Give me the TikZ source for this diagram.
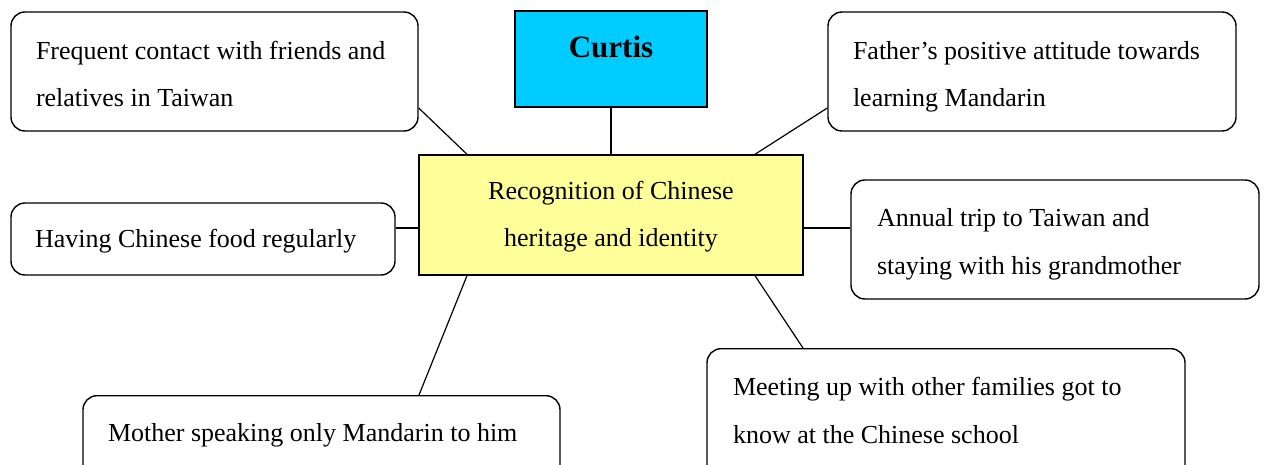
\documentclass[tikz,border=0pt]{standalone}
\usepackage{fontspec}
\setmainfont{Liberation Serif}
\usetikzlibrary{calc}
\definecolor{namecyan}{RGB}{0,204,255}
\definecolor{coreyellow}{RGB}{255,255,153}
% text block whose first baseline lies #1 above the node centre
\newcommand\boxtext[3]{\raisebox{#1}[0pt][0pt]{\parbox[t]{#2}{\raggedright\fontsize{26}{47.5}\selectfont #3}}}
\newcommand\coretext[3]{\raisebox{#1}[0pt][0pt]{\parbox[t]{#2}{\centering\fontsize{26}{47.5}\selectfont #3}}}
\begin{document}
\begin{tikzpicture}[x=1pt,y=-1pt,
  factor/.style={draw, rounded corners=14pt, line width=1.4pt, fill=white,
    inner sep=0pt},
  namebox/.style={draw, line width=1.4pt, fill=namecyan,
    font=\fontsize{31}{36}\selectfont\bfseries, inner sep=0pt},
  corebox/.style={draw, line width=1.4pt, fill=coreyellow, inner sep=0pt},
  link/.style={line width=1.2pt}]
\useasboundingbox (0,0) rectangle (1267,465);
\clip (0,0) rectangle (1267,465);
\fill[white] (0,0) rectangle (1267,465);

% central concept and name
\node[corebox, minimum width=384pt, minimum height=120pt] (core) at (611,215)
  {\coretext{15.5pt}{380pt}{Recognition of Chinese\\heritage and identity}};
\node[namebox, minimum width=192pt, minimum height=96pt] (name) at (611,59)
  {\raisebox{1.7pt}[0pt][0pt]{Curtis}};

% influencing factors
\node[factor, minimum width=407pt, minimum height=119pt] (contact) at (214.5,71.5)
  {\boxtext{12.2pt}{357pt}{Frequent contact with friends and\\relatives in Taiwan}};
\node[factor, minimum width=408pt, minimum height=119pt] (father) at (1032,71.5)
  {\boxtext{12.2pt}{358pt}{Father’s positive attitude towards\\learning Mandarin}};
\node[factor, minimum width=384pt, minimum height=72pt] (food) at (203,239)
  {\boxtext{-9pt}{336pt}{Having Chinese food regularly}};
\node[factor, minimum width=408pt, minimum height=119pt] (trip) at (1055,239.5)
  {\boxtext{12.8pt}{356pt}{Annual trip to Taiwan and\\staying with his grandmother}};
\node[factor, minimum width=477pt, minimum height=150pt, anchor=north] (mother) at (321.5,395)
  {\boxtext{29.3pt}{427pt}{Mother speaking only Mandarin to him}};
\node[factor, minimum width=478pt, minimum height=150pt, anchor=north] (meet) at (946,348)
  {\boxtext{28pt}{426pt}{Meeting up with other families got to\\know at the Chinese school}};

% connector end points
\coordinate (contactE) at ($(contact.east)+(0,36.5)$);
\coordinate (coreNW) at ($(core.north)+(-144,0)$);
\coordinate (coreNE) at ($(core.north)+(144,0)$);
\coordinate (fatherW) at ($(father.west)+(0,36.5)$);
\coordinate (coreW) at ($(core.west)+(0,13)$);
\coordinate (foodE) at ($(food.east)+(0,-11)$);
\coordinate (coreE) at ($(core.east)+(0,13)$);
\coordinate (tripW) at ($(trip.west)+(0,-11.5)$);
\coordinate (coreSW) at ($(core.south)+(-144,0)$);
\coordinate (coreSE) at ($(core.south)+(144,0)$);
\coordinate (motherN) at ($(mother.north)+(97.5,0)$);
\coordinate (meetN) at ($(meet.north)+(-143,0)$);

\draw[link] (name.south) -- (core.north);
\draw[link] (contactE) -- (coreNW);
\draw[link] (fatherW) -- (coreNE);
\draw[link] (foodE) -- (coreW);
\draw[link] (coreE) -- (tripW);
\draw[link] (coreSW) -- (motherN);
\draw[link] (coreSE) -- (meetN);
\end{tikzpicture}
\end{document}
